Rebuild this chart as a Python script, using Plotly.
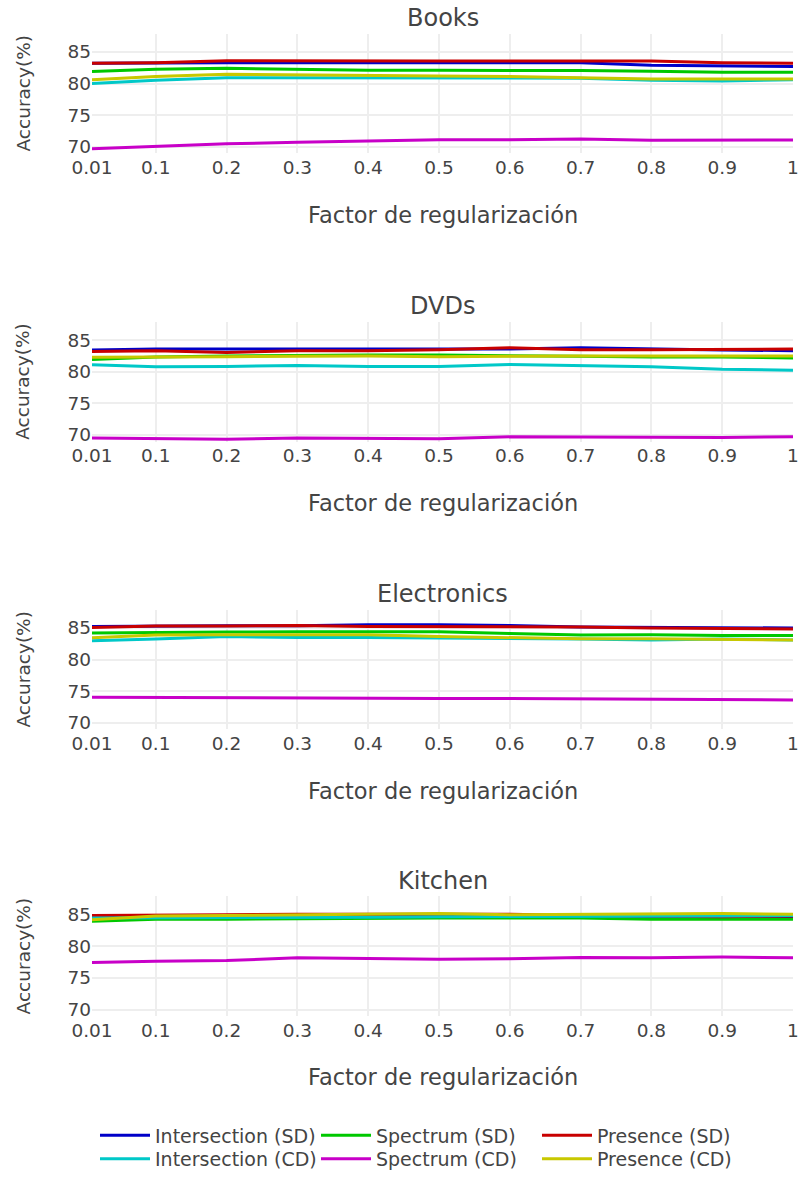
import plotly.graph_objects as go

x_vals = [0.01, 0.1, 0.2, 0.3, 0.4, 0.5, 0.6, 0.7, 0.8, 0.9, 1]
tick_text = ["0.01", "0.1", "0.2", "0.3", "0.4", "0.5", "0.6", "0.7", "0.8", "0.9", "1"]
y_ticks = [70, 75, 80, 85]
datasets = ["Books", "DVDs", "Electronics", "Kitchen"]
series_names = ["Intersection (SD)", "Spectrum (SD)", "Presence (SD)",
                "Intersection (CD)", "Spectrum (CD)", "Presence (CD)"]
series_colors = ["rgb(0,0,200)", "rgb(0,200,0)", "rgb(200,0,0)",
                 "rgb(0,200,200)", "rgb(200,0,200)", "rgb(200,200,0)"]

books_int_sd = [83.2, 83.3, 83.3, 83.3, 83.3, 83.3, 83.3, 83.3, 82.9, 82.75, 82.7]
books_spec_sd = [81.9, 82.25, 82.4, 82.25, 82.1, 82.1, 82.1, 82.05, 81.95, 81.8, 81.8]
books_pres_sd = [83.2, 83.3, 83.6, 83.55, 83.55, 83.55, 83.55, 83.55, 83.55, 83.3, 83.2]
books_int_cd = [80.0, 80.5, 80.9, 80.9, 80.9, 80.9, 80.85, 80.85, 80.5, 80.4, 80.6]
books_spec_cd = [69.65, 70.0, 70.45, 70.7, 70.9, 71.1, 71.1, 71.2, 71.0, 71.0, 71.05]
books_pres_cd = [80.6, 81.1, 81.45, 81.4, 81.35, 81.2, 81.1, 80.9, 80.7, 80.7, 80.7]

dvds_int_sd = [83.45, 83.6, 83.6, 83.6, 83.6, 83.55, 83.6, 83.8, 83.6, 83.45, 83.35]
dvds_spec_sd = [81.95, 82.35, 82.5, 82.6, 82.65, 82.65, 82.5, 82.45, 82.35, 82.35, 82.2]
dvds_pres_sd = [83.2, 83.35, 83.05, 83.35, 83.35, 83.5, 83.8, 83.5, 83.5, 83.5, 83.6]
dvds_int_cd = [81.1, 80.8, 80.85, 81.0, 80.85, 80.85, 81.15, 81.0, 80.8, 80.4, 80.25]
dvds_spec_cd = [69.5, 69.45, 69.3, 69.5, 69.5, 69.4, 69.7, 69.65, 69.6, 69.6, 69.7]
dvds_pres_cd = [82.3, 82.4, 82.4, 82.45, 82.5, 82.4, 82.5, 82.5, 82.5, 82.5, 82.5]

elec_int_sd = [85.25, 85.35, 85.35, 85.35, 85.5, 85.5, 85.4, 85.15, 85.1, 85.0, 85.0]
elec_spec_sd = [84.2, 84.3, 84.35, 84.4, 84.35, 84.4, 84.15, 83.9, 83.95, 83.8, 83.8]
elec_pres_sd = [85.1, 85.3, 85.3, 85.4, 85.25, 85.25, 85.2, 85.15, 85.0, 84.9, 84.85]
elec_int_cd = [83.0, 83.25, 83.65, 83.5, 83.5, 83.45, 83.35, 83.25, 83.1, 83.25, 83.1]
elec_spec_cd = [74.05, 74.0, 73.95, 73.9, 73.85, 73.85, 73.85, 73.8, 73.8, 73.75, 73.6]
elec_pres_cd = [83.45, 83.9, 83.95, 84.0, 83.95, 83.65, 83.5, 83.3, 83.3, 83.25, 83.1]

kitchen_int_sd = [84.6, 84.8, 84.8, 84.9, 84.9, 84.9, 84.9, 84.9, 84.7, 84.7, 84.7]
kitchen_spec_sd = [84.0, 84.3, 84.3, 84.4, 84.5, 84.5, 84.5, 84.5, 84.3, 84.3, 84.3]
kitchen_pres_sd = [84.9, 85.0, 85.0, 85.1, 85.1, 85.1, 85.1, 84.9, 84.8, 84.7, 84.8]
kitchen_int_cd = [84.5, 84.5, 84.5, 84.6, 84.6, 84.7, 84.7, 84.8, 84.8, 84.8, 84.9]
kitchen_spec_cd = [77.45, 77.65, 77.75, 78.2, 78.1, 77.95, 78.05, 78.25, 78.2, 78.3, 78.2]
kitchen_pres_cd = [84.2, 84.8, 84.9, 85.0, 85.1, 85.2, 85.0, 85.1, 85.2, 85.2, 85.1]

all_series = [
    [books_int_sd, books_spec_sd, books_pres_sd, books_int_cd, books_spec_cd, books_pres_cd],
    [dvds_int_sd, dvds_spec_sd, dvds_pres_sd, dvds_int_cd, dvds_spec_cd, dvds_pres_cd],
    [elec_int_sd, elec_spec_sd, elec_pres_sd, elec_int_cd, elec_spec_cd, elec_pres_cd],
    [kitchen_int_sd, kitchen_spec_sd, kitchen_pres_sd, kitchen_int_cd, kitchen_spec_cd, kitchen_pres_cd],
]

W, H = 799, 1178
ML, MR = 92, 5.5
PW = W - ML - MR
FONT = "Verdana, DejaVu Sans, sans-serif"
GREY = "#444444"

# pixel positions of each panel (top, bottom)
panel_px = [(34, 155), (325.5, 446.5), (616.5, 737.5), (906.5, 1027.5)]


def fy(px):
    return 1 - px / H


legend_common = dict(orientation="h", x=(95 - ML) / PW, xanchor="left",
                     yanchor="middle", font=dict(size=19, family=FONT, color=GREY),
                     itemwidth=50, entrywidth=156, entrywidthmode="pixels",
                     bgcolor="rgba(0,0,0,0)", borderwidth=0)

fig = go.Figure()
layout = dict(
    width=W, height=H,
    margin=dict(l=ML, r=MR, t=0, b=0, pad=0),
    paper_bgcolor="white", plot_bgcolor="white",
    font=dict(family=FONT, color=GREY),
    showlegend=True,
    legend=dict(legend_common, y=fy(1148)),
    legend2=dict(legend_common, y=fy(1172)),
    annotations=[],
)

for i, (name, series) in enumerate(zip(datasets, all_series)):
    top, bot = panel_px[i]
    xa = "x" if i == 0 else f"x{i+1}"
    ya = "y" if i == 0 else f"y{i+1}"
    for j, vals in enumerate(series):
        fig.add_trace(go.Scatter(
            x=x_vals, y=vals, mode="lines", name=series_names[j],
            line=dict(color=series_colors[j], width=3),
            xaxis=xa, yaxis=ya, showlegend=(i == 0),
            legend="legend" if j < 3 else "legend2",
        ))
    xkey = "xaxis" if i == 0 else f"xaxis{i+1}"
    ykey = "yaxis" if i == 0 else f"yaxis{i+1}"
    layout[xkey] = dict(
        domain=[0, 1], anchor=ya, range=[0.01, 1],
        tickmode="array", tickvals=x_vals, ticktext=tick_text,
        showgrid=True, gridcolor="#eeeeee", gridwidth=1.5,
        zeroline=False, showline=False, ticks="", ticklabelstandoff=1,
        tickfont=dict(size=18.5, family=FONT, color=GREY), automargin=False,
    )
    layout[ykey] = dict(
        domain=[fy(bot), fy(top)], anchor=xa, range=[68.95, 87.9],
        tickmode="array", tickvals=y_ticks,
        showgrid=True, gridcolor="#eeeeee", gridwidth=1.5,
        zeroline=False, showline=False, ticks="",
        tickfont=dict(size=18.5, family=FONT, color=GREY), automargin=False,
    )
    layout["annotations"] += [
        dict(text=name, xref="paper", yref="paper", x=0.5, y=fy(top - 16),
             xanchor="center", yanchor="middle", showarrow=False,
             font=dict(size=24, family=FONT, color=GREY)),
        dict(text="Factor de regularización", xref="paper", yref="paper", x=0.5,
             y=fy(bot + 62), xanchor="center", yanchor="middle", showarrow=False,
             font=dict(size=22.5, family=FONT, color=GREY)),
        dict(text="Accuracy(%)", xref="paper", yref="paper", x=(23 - ML) / PW,
             y=fy((top + bot) / 2), xanchor="center", yanchor="middle", showarrow=False,
             textangle=-90, font=dict(size=18.5, family=FONT, color=GREY)),
    ]

fig.update_layout(**layout)
fig.write_html("out.html")
